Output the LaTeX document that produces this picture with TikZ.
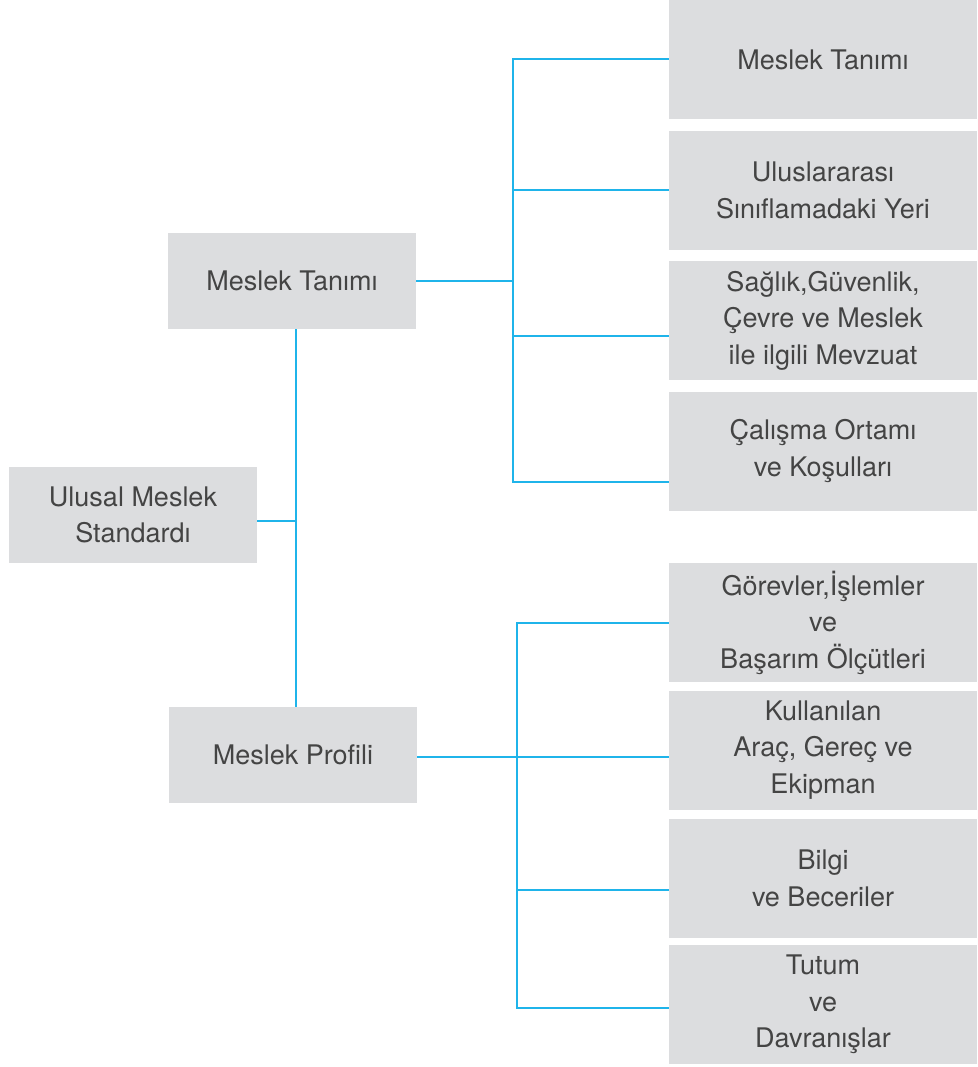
\documentclass[tikz,border=0pt]{standalone}
\usepackage{fontspec}
\setmainfont{TeX Gyre Heros}
\definecolor{boxgray}{HTML}{DCDDDF}
\definecolor{linkblue}{HTML}{1FB4EA}
\definecolor{textgray}{HTML}{444444}

\begin{document}
\begin{tikzpicture}[
    x=1pt, y=-1pt,
    box/.style={rectangle, fill=boxgray, text=textgray, align=center, inner sep=0pt, font=\fontsize{27}{36.5}\selectfont},
    leftbox/.style={box, minimum width=248pt, minimum height=96pt},
    rightbox/.style={box, minimum width=308pt, minimum height=119pt},
    link/.style={draw=linkblue, line width=2pt}
]
\useasboundingbox (0,0) rectangle (977,1067);

\node[leftbox] (ums) at (133,515) {Ulusal Meslek\\Standardı};
\node[leftbox] (tanim) at (292,281) {Meslek Tanımı};
\node[leftbox] (profil) at (293,755) {Meslek Profili};

% meslek tanimi
\node[rightbox] (ta) at (823,59.5) {Meslek Tanımı};
\node[rightbox] (tb) at (823,190.5) {Uluslararası\\Sınıflamadaki Yeri};
\node[rightbox] (tc) at (823,320.5) {Sağlık,Güvenlik,\\Çevre ve Meslek\\ile ilgili Mevzuat};
\node[rightbox] (td) at (823,451) {Çalışma Ortamı\\ve Koşulları};

% meslek profili
\node[rightbox] (pa) at (823,622.5) {Görevler,İşlemler\\ve\\Başarım Ölçütleri};
\node[rightbox] (pb) at (823,750) {Kullanılan\\Araç, Gereç ve\\Ekipman};
\node[rightbox] (pc) at (823,878.5) {Bilgi\\ve Beceriler};
\node[rightbox] (pd) at (823,1004.5) {Tutum\\ve\\Davranışlar};

\coordinate (trunk) at (296,521);
\coordinate (forkA) at (513,281);
\coordinate (forkB) at (517,757);
\coordinate (tcin) at ([yshift=-15pt]tc.west);
\coordinate (tdin) at ([yshift=-31pt]td.west);
\coordinate (pcin) at ([yshift=-11pt]pc.west);
\coordinate (pdin) at ([yshift=-3pt]pd.west);

\draw[link] (tanim.south -| trunk) -- (profil.north -| trunk);
\draw[link] (ums.east |- trunk) -- (trunk);

\draw[link] (tanim.east) -- (forkA);
\draw[link] (ta.west) -| (forkA) |- (tdin);
\draw[link] (forkA |- tb.west) -- (tb.west);
\draw[link] (forkA |- tcin) -- (tcin);

\draw[link] (profil.east |- forkB) -- (forkB -| pb.west);
\draw[link] (pa.west) -| (forkB) |- (pdin);
\draw[link] (forkB |- pcin) -- (pcin);
\end{tikzpicture}
\end{document}
